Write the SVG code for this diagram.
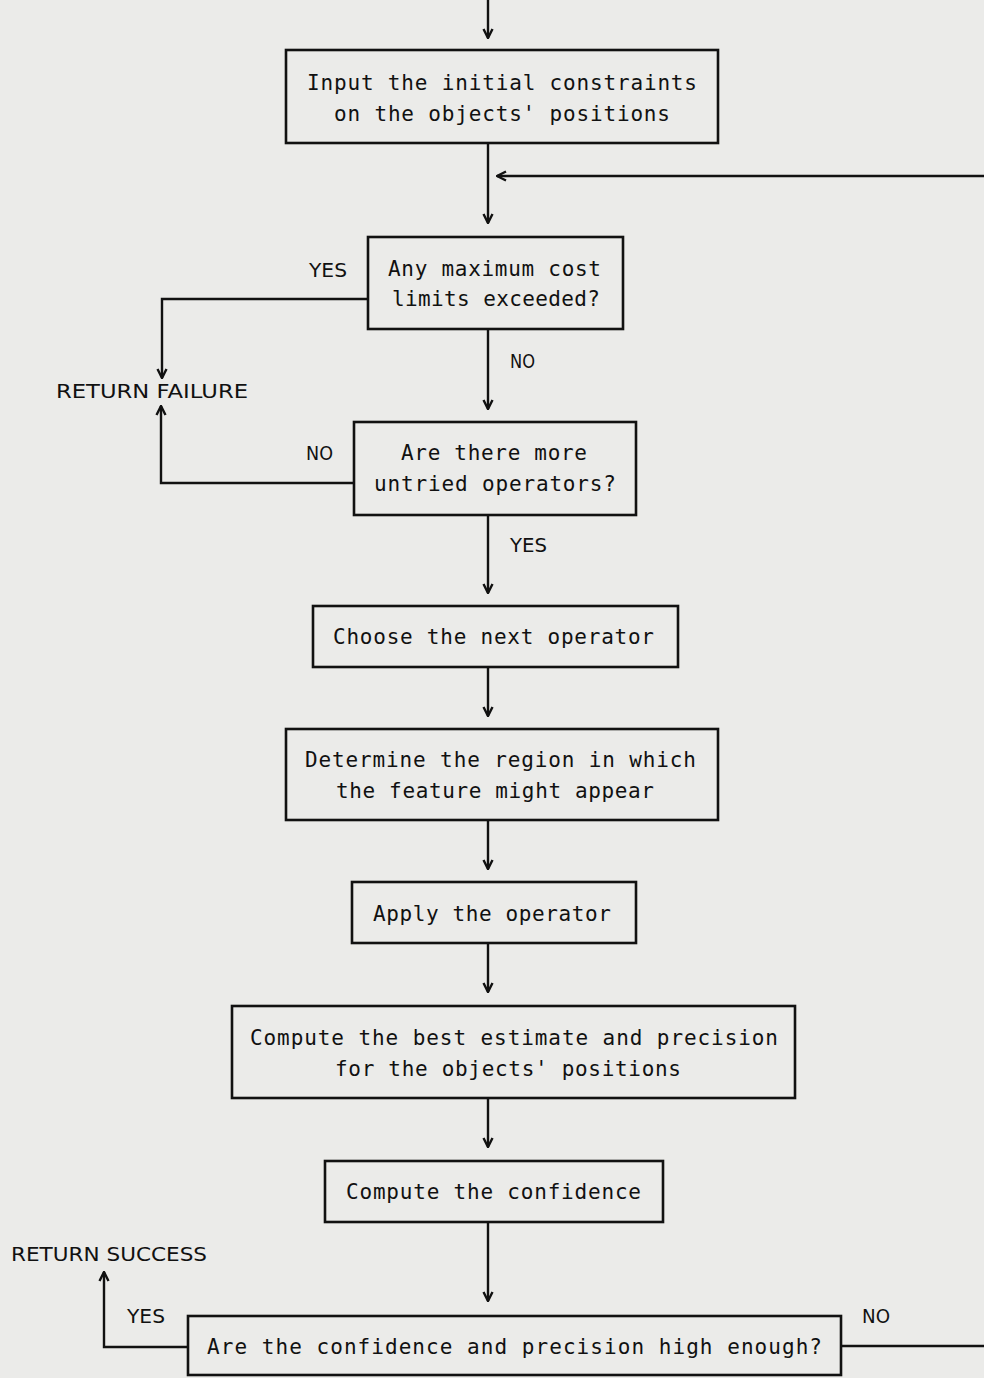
<svg xmlns="http://www.w3.org/2000/svg" width="984" height="1378" viewBox="0 0 984 1378">
<defs>
<style>
.bg{fill:#ebebe9}
.box{fill:none;stroke:#111;stroke-width:2.6}
.ln{fill:none;stroke:#111;stroke-width:2.4}
.t{font-family:"DejaVu Sans Mono","Liberation Mono",monospace;font-size:21px;fill:#111}
.lb{font-family:"DejaVu Sans","Liberation Sans",sans-serif;font-size:20px;fill:#111}
</style>
<marker id="ah" markerWidth="12" markerHeight="12" refX="11" refY="6" orient="auto" markerUnits="userSpaceOnUse" viewBox="0 0 12 12">
<path d="M2,1.5 L11,6 L2,10.5" fill="none" stroke="#111" stroke-width="2.4"/>
</marker>
</defs>
<rect class="bg" x="0" y="0" width="984" height="1378"/>
<g id="connectors">
<line class="ln" x1="488" y1="0" x2="488" y2="38" marker-end="url(#ah)"/>
<line class="ln" x1="488" y1="143" x2="488" y2="223" marker-end="url(#ah)"/>
<polyline class="ln" points="841,1346 990,1346 990,176 497,176" marker-end="url(#ah)"/>
<polyline class="ln" points="368,299 162,299 162,378" marker-end="url(#ah)"/>
<line class="ln" x1="488" y1="329" x2="488" y2="409" marker-end="url(#ah)"/>
<polyline class="ln" points="354,483 161,483 161,406" marker-end="url(#ah)"/>
<line class="ln" x1="488" y1="515" x2="488" y2="593" marker-end="url(#ah)"/>
<line class="ln" x1="488" y1="667" x2="488" y2="716" marker-end="url(#ah)"/>
<line class="ln" x1="488" y1="820" x2="488" y2="869" marker-end="url(#ah)"/>
<line class="ln" x1="488" y1="943" x2="488" y2="992" marker-end="url(#ah)"/>
<line class="ln" x1="488" y1="1098" x2="488" y2="1147" marker-end="url(#ah)"/>
<line class="ln" x1="488" y1="1222" x2="488" y2="1301" marker-end="url(#ah)"/>
<polyline class="ln" points="188,1347 104,1347 104,1272" marker-end="url(#ah)"/>
</g>
<g id="labels">
<text class="lb" x="309" y="277" textLength="38" lengthAdjust="spacingAndGlyphs">YES</text>
<text class="lb" x="510" y="368" textLength="25" lengthAdjust="spacingAndGlyphs">NO</text>
<text class="lb" x="56" y="398" textLength="192" lengthAdjust="spacingAndGlyphs">RETURN FAILURE</text>
<text class="lb" x="306" y="460" textLength="27" lengthAdjust="spacingAndGlyphs">NO</text>
<text class="lb" x="510" y="552" textLength="37" lengthAdjust="spacingAndGlyphs">YES</text>
<text class="lb" x="11" y="1261" textLength="196" lengthAdjust="spacingAndGlyphs">RETURN SUCCESS</text>
<text class="lb" x="127" y="1323" textLength="38" lengthAdjust="spacingAndGlyphs">YES</text>
<text class="lb" x="862" y="1323" textLength="28" lengthAdjust="spacingAndGlyphs">NO</text>
</g>
<g id="n1">
<rect class="box" x="286" y="50" width="432" height="93"/>
<text class="t" x="307" y="90" textLength="390" lengthAdjust="spacing">Input the initial constraints</text>
<text class="t" x="334" y="121" textLength="336" lengthAdjust="spacing">on the objects' positions</text>
</g>
<g id="n2">
<rect class="box" x="368" y="237" width="255" height="92"/>
<text class="t" x="388" y="276" textLength="213" lengthAdjust="spacing">Any maximum cost</text>
<text class="t" x="392" y="306" textLength="208" lengthAdjust="spacing">limits exceeded?</text>
</g>
<g id="n3">
<rect class="box" x="354" y="422" width="282" height="93"/>
<text class="t" x="401" y="460" textLength="186" lengthAdjust="spacing">Are there more</text>
<text class="t" x="374" y="491" textLength="242" lengthAdjust="spacing">untried operators?</text>
</g>
<g id="n4">
<rect class="box" x="313" y="606" width="365" height="61"/>
<text class="t" x="333" y="644" textLength="321" lengthAdjust="spacing">Choose the next operator</text>
</g>
<g id="n5">
<rect class="box" x="286" y="729" width="432" height="91"/>
<text class="t" x="305" y="767" textLength="391" lengthAdjust="spacing">Determine the region in which</text>
<text class="t" x="336" y="798" textLength="318" lengthAdjust="spacing">the feature might appear</text>
</g>
<g id="n6">
<rect class="box" x="352" y="882" width="284" height="61"/>
<text class="t" x="373" y="921" textLength="238" lengthAdjust="spacing">Apply the operator</text>
</g>
<g id="n7">
<rect class="box" x="232" y="1006" width="563" height="92"/>
<text class="t" x="250" y="1045" textLength="528" lengthAdjust="spacing">Compute the best estimate and precision</text>
<text class="t" x="335" y="1076" textLength="346" lengthAdjust="spacing">for the objects' positions</text>
</g>
<g id="n8">
<rect class="box" x="325" y="1161" width="338" height="61"/>
<text class="t" x="346" y="1199" textLength="295" lengthAdjust="spacing">Compute the confidence</text>
</g>
<g id="n9">
<rect class="box" x="188" y="1316" width="653" height="59"/>
<text class="t" x="207" y="1354" textLength="615" lengthAdjust="spacing">Are the confidence and precision high enough?</text>
</g>
</svg>
